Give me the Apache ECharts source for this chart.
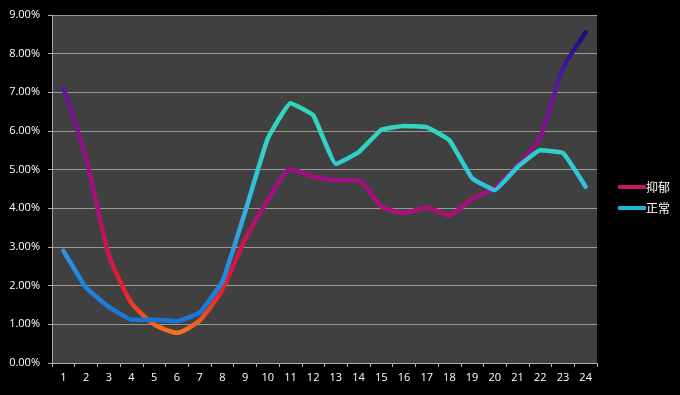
<!DOCTYPE html>
<html><head><meta charset="utf-8">
<script src="https://cdn.jsdelivr.net/npm/echarts@6/dist/echarts.min.js"></script>
<style>html,body{margin:0;padding:0;background:#000;}#c{width:680px;height:395px;}</style>
</head><body><div id="c"></div>
<script>
const categories = ['1','2','3','4','5','6','7','8','9','10','11','12','13','14','15','16','17','18','19','20','21','22','23','24'];
const depressed = [7.12,5.3,2.8,1.55,1.0,0.78,1.1,1.9,3.2,4.2,5.02,4.82,4.73,4.72,4.05,3.88,4.02,3.82,4.25,4.52,5.1,5.85,7.62,8.55];
const normal = [2.9,1.95,1.45,1.12,1.12,1.08,1.3,2.1,3.9,5.8,6.72,6.41,5.15,5.45,6.03,6.13,6.1,5.76,4.78,4.47,5.07,5.5,5.43,4.56];
const seriesNames = ['抑郁','正常'];
const yTicks = [0,1,2,3,4,5,6,7,8,9];

const chart = echarts.init(document.getElementById('c'), null, {renderer:'canvas'});
chart.setOption({
  backgroundColor:'#000',
  animation:false,
  grid:{left:52,right:83,top:15,bottom:32,show:true,backgroundColor:'#404040',borderWidth:0},
  legend:{
    orient:'vertical', left:613, top:176, itemWidth:28, itemHeight:4, itemGap:9,
    icon:'roundRect',
    textStyle:{color:'#fff',fontSize:12,fontFamily:'Noto Sans CJK SC',padding:[0,0,8,-5]},
    data:[{name:seriesNames[0],itemStyle:{color:'#c0186a'}},{name:seriesNames[1],itemStyle:{color:'#22b4e0'}}]
  },
  xAxis:{
    type:'category', data:categories, boundaryGap:true,
    axisLine:{lineStyle:{color:'#b0b0b0',width:1}},
    axisTick:{show:true,length:4,lineStyle:{color:'#b0b0b0'}},
    axisLabel:{color:'#fff',fontSize:11,margin:9,fontFamily:'Open Sans'}
  },
  yAxis:{
    type:'value', min:yTicks[0], max:yTicks[yTicks.length-1], interval:1,
    axisLine:{show:true,lineStyle:{color:'#a8a8a8'}},
    axisTick:{show:true,length:4,lineStyle:{color:'#b0b0b0'}},
    splitLine:{lineStyle:{color:'#9a9a9a',width:1}},
    axisLabel:{color:'#fff',fontSize:11,margin:12,fontFamily:'Open Sans',formatter:v=>v.toFixed(2)+'%'}
  },
  visualMap:[
    {type:'continuous',show:false,seriesIndex:0,dimension:1,min:0.7,max:8.6,
     inRange:{color:['#f47a1c','#e82228','#cc1254','#a8107c','#9c0e86','#7a1494','#4a1a9c','#12107e']}},
    {type:'continuous',show:false,seriesIndex:1,dimension:1,min:1.0,max:6.8,
     inRange:{color:['#1872d8','#1c84e0','#2a98e2','#30b4e4','#30c8d8','#30d4c4','#32d8b4']}}
  ],
  series:[
    {name:seriesNames[0],type:'line',data:depressed,showSymbol:false,symbol:'none',smooth:0.2,
     color:'#c0186a',lineStyle:{width:4.5,cap:'round',join:'round'}},
    {name:seriesNames[1],type:'line',data:normal,showSymbol:false,symbol:'none',smooth:0.1,
     color:'#22b4e0',lineStyle:{width:4.5,cap:'round',join:'round'}}
  ]
});
</script></body></html>
